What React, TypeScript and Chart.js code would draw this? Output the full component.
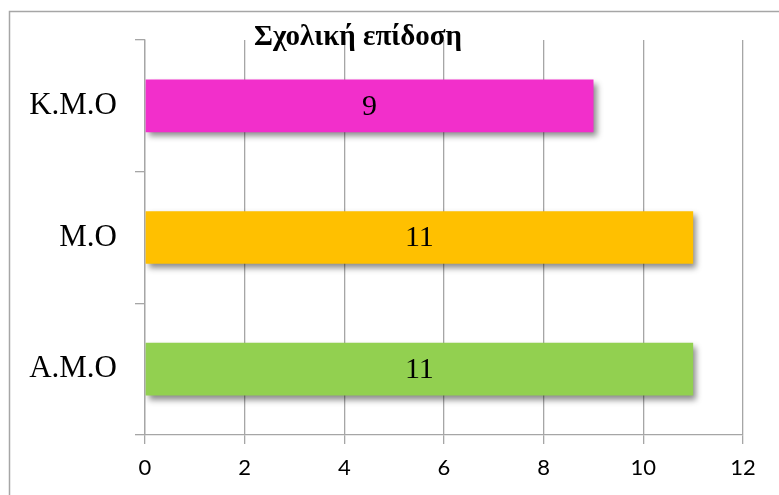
import React, { useEffect, useRef } from "react";
import { Chart, registerables } from "chart.js";

Chart.register(...registerables);

const categories = ["K.M.O", "M.O", "A.M.O"];
const values = [9, 11, 11];
const barColors = ["#F22FCB", "#FFC000", "#92D050"];
const xTicks = [0, 2, 4, 6, 8, 10, 12];
const chartTitle = "Σχολική επίδοση";

const frame = {
  id: "frame",
  beforeDraw(chart: any) {
    const ctx = chart.ctx;
    ctx.save();
    ctx.fillStyle = "#ffffff";
    ctx.fillRect(0, 0, chart.width, chart.height);
    ctx.strokeStyle = "#A6A6A6";
    ctx.lineWidth = 1.5;
    ctx.strokeRect(9.5, 11.5, chart.width + 20, chart.height + 20);
    ctx.restore();
  },
  afterDraw(chart: any) {
    const ctx = chart.ctx;
    ctx.save();
    ctx.fillStyle = "#000";
    ctx.font = "bold 29px 'Liberation Serif'";
    ctx.textAlign = "center";
    ctx.textBaseline = "alphabetic";
    ctx.fillText(chartTitle, 358, 45);
    ctx.restore();
  },
};

const shadow = {
  id: "barShadow",
  beforeDatasetDraw(chart: any) {
    const ctx = chart.ctx;
    ctx.save();
    ctx.shadowColor = "rgba(0,0,0,0.45)";
    ctx.shadowBlur = 6;
    ctx.shadowOffsetX = 3;
    ctx.shadowOffsetY = 4;
  },
  afterDatasetDraw(chart: any) {
    chart.ctx.restore();
    const ctx = chart.ctx;
    const meta = chart.getDatasetMeta(0);
    ctx.save();
    ctx.fillStyle = "#000";
    ctx.font = "30px 'Liberation Serif'";
    ctx.textAlign = "center";
    ctx.textBaseline = "middle";
    meta.data.forEach((bar: any, i: number) => {
      const cx = (bar.x + bar.base) / 2;
      ctx.fillText(String(values[i]), cx, bar.y + 1);
    });
    ctx.restore();
  },
};

export default function App() {
  const ref = useRef<HTMLCanvasElement>(null);
  useEffect(() => {
    document.body.style.margin = "0";
    const chart = new Chart(ref.current!, {
      type: "bar",
      data: {
        labels: categories,
        datasets: [
          {
            data: values,
            backgroundColor: barColors,
            borderWidth: 0,
            categoryPercentage: 1,
            barPercentage: 0.4,
          },
        ],
      },
      options: {
        indexAxis: "y",
        animation: false,
        responsive: false,
        maintainAspectRatio: false,
        layout: { padding: { top: 40, right: 36, left: 0, bottom: 0 } },
        plugins: {
          legend: { display: false },
          title: { display: false },
          tooltip: { enabled: false },
        },
        scales: {
          x: {
            min: 0,
            max: 12,
            afterBuildTicks(scale: any) {
              scale.ticks = xTicks.map((v) => ({ value: v }));
            },
            afterFit(scale: any) {
              scale.height = 60;
            },
            grid: {
              color: "#A6A6A6",
              lineWidth: 1.3,
              tickLength: 9,
              drawTicks: true,
            },
            border: { color: "#A6A6A6", width: 1.3 },
            ticks: {
              color: "#000",
              font: { family: "Lato", size: 22 },
              padding: 11,
              maxRotation: 0,
            },
          },
          y: {
            afterFit(scale: any) {
              scale.width = 145;
            },
            grid: {
              drawOnChartArea: false,
              color: "#A6A6A6",
              lineWidth: 1.3,
              tickLength: 10,
              offset: true,
            },
            border: { color: "#A6A6A6", width: 1.3 },
            ticks: {
              color: "#000",
              font: { family: "Liberation Serif", size: 31 },
              padding: 18,
            },
          },
        },
      },
      plugins: [frame, shadow],
    });
    return () => chart.destroy();
  }, []);
  return <canvas ref={ref} width={779} height={495} style={{ display: "block" }} />;
}
